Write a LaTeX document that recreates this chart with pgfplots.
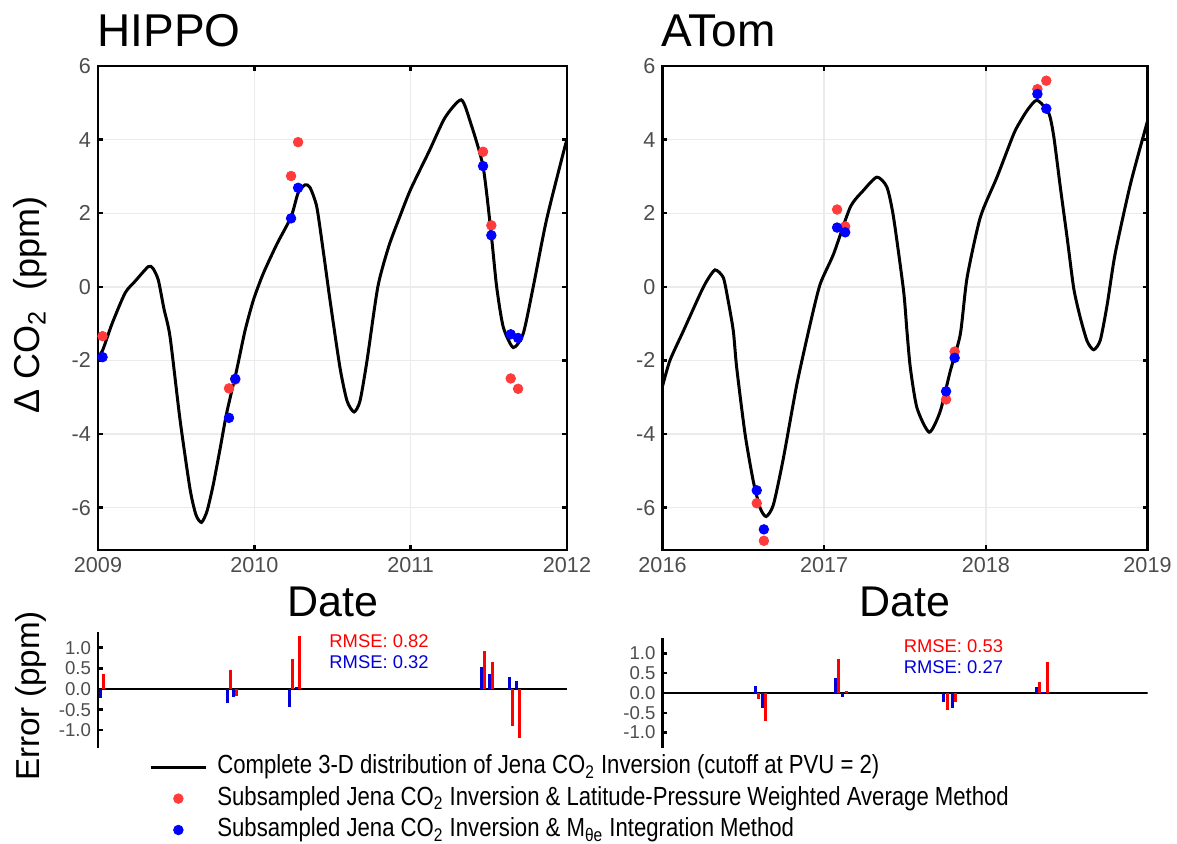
\documentclass[border=0pt]{standalone}
\usepackage{pgfplots}
\usepackage{pgfplotstable}
\pgfplotsset{compat=1.18}
\usepackage{fontspec}
\setmainfont{Liberation Sans}
\newfontfamily\narrowfont[FakeStretch=0.845]{Liberation Sans}
\definecolor{dotred}{RGB}{255,59,59}
\definecolor{dotblue}{RGB}{0,0,255}
\definecolor{barred}{RGB}{255,0,0}
\definecolor{barblue}{RGB}{0,0,215}
\definecolor{tickgray}{RGB}{77,77,77}
\definecolor{gridgray}{RGB}{235,235,235}

% ---------------- HIPPO data ----------------
\pgfplotstableread{
x y
2009.000 -1.90
2009.030 -1.72
2009.090 -1.00
2009.173 -0.17
2009.237 0.15
2009.322 0.55
2009.352 0.50
2009.386 0.18
2009.422 -0.60
2009.461 -1.36
2009.525 -3.62
2009.589 -5.50
2009.627 -6.20
2009.662 -6.40
2009.697 -6.10
2009.736 -5.40
2009.781 -4.40
2009.823 -3.43
2009.887 -2.26
2009.940 -1.20
2009.994 -0.36
2010.056 0.35
2010.143 1.15
2010.235 1.90
2010.280 2.55
2010.324 2.77
2010.356 2.70
2010.399 2.18
2010.440 1.00
2010.484 -0.36
2010.548 -2.20
2010.593 -3.10
2010.638 -3.40
2010.676 -3.10
2010.721 -2.00
2010.790 0.00
2010.860 1.10
2010.930 1.90
2011.000 2.65
2011.120 3.70
2011.220 4.60
2011.323 5.08
2011.380 4.50
2011.463 3.27
2011.516 1.40
2011.550 0.00
2011.592 -1.09
2011.656 -1.65
2011.720 -1.27
2011.784 0.00
2011.869 1.82
2011.990 3.86
2012.000 3.90
}\hippocurve
\pgfplotstableread{
x red blue
2009.029 -1.34 -1.91
2009.838 -2.76 -3.56
2009.878 -2.52 -2.50
2010.235 3.01 1.86
2010.280 3.93 2.69
2011.463 3.67 3.28
2011.516 1.67 1.40
2011.640 -2.49 -1.29
2011.687 -2.77 -1.39
}\hippodots
\pgfplotstableread{
x err
2009.017 -0.21
2009.827 -0.34
2009.868 -0.20
2010.224 -0.43
2010.269 0.05
2011.452 0.52
2011.504 0.36
2011.630 0.29
2011.674 0.19
}\hippoerrblue
\pgfplotstableread{
x err
2009.038 0.37
2009.846 0.47
2009.887 -0.17
2010.246 0.73
2010.290 1.29
2011.472 0.93
2011.525 0.65
2011.651 -0.90
2011.695 -1.20
}\hippoerrred

% ---------------- ATom data ----------------
\pgfplotstableread{
x y
2016.000 -2.70
2016.046 -2.00
2016.129 -1.20
2016.232 -0.20
2016.274 0.16
2016.325 0.46
2016.376 0.25
2016.405 -0.35
2016.438 -1.20
2016.459 -2.20
2016.511 -4.01
2016.562 -5.29
2016.604 -6.01
2016.641 -6.24
2016.686 -5.92
2016.748 -4.65
2016.831 -2.65
2016.913 -1.02
2016.975 0.07
2017.058 0.89
2017.161 2.16
2017.243 2.62
2017.326 2.98
2017.388 2.71
2017.429 1.89
2017.491 -0.10
2017.512 -1.20
2017.533 -2.20
2017.574 -3.29
2017.650 -3.95
2017.718 -3.38
2017.780 -2.29
2017.842 -1.29
2017.884 0.25
2017.966 1.89
2018.069 2.98
2018.172 4.15
2018.214 4.50
2018.260 4.82
2018.317 5.07
2018.389 4.72
2018.420 4.09
2018.461 2.70
2018.503 1.33
2018.544 -0.05
2018.585 -0.85
2018.627 -1.48
2018.667 -1.71
2018.708 -1.45
2018.750 -0.50
2018.800 0.90
2018.895 2.80
2019.000 4.50
}\atomcurve
\pgfplotstableread{
x red blue
2016.583 -5.88 -5.53
2016.627 -6.90 -6.59
2017.080 2.10 1.61
2017.130 1.64 1.48
2017.754 -3.06 -2.84
2017.807 -1.76 -1.93
2018.319 5.37 5.24
2018.374 5.60 4.84
}\atomdots
\pgfplotstableread{
x err
2016.573 0.18
2016.616 -0.39
2017.072 0.37
2017.116 -0.11
2017.741 -0.23
2017.793 -0.39
2018.311 0.16
2018.354 0.02
}\atomerrblue
\pgfplotstableread{
x err
2016.591 -0.16
2016.635 -0.70
2017.091 0.87
2017.136 0.05
2017.762 -0.44
2017.813 -0.23
2018.329 0.29
2018.379 0.78
}\atomerrred

\pgfplotsset{
  mainax/.style={
    anchor=south west, scale only axis, height=242pt,
    ymin=-7.15, ymax=6, ytick={-6,-4,...,6},
    grid=major, grid style={color=gridgray, line width=0.7pt},
    axis line style={line width=1.2pt},
    tick style={black, line width=1.2pt},
    major tick length=2.5pt, tick align=inside,
    ticklabel style={font=\fontsize{10.8}{12}\selectfont, color=tickgray},
    /pgf/number format/assume math mode=true,
    /pgf/number format/1000 sep={},
  },
  errax/.style={
    anchor=south west, scale only axis,
    axis x line=none, axis y line*=left,
    axis line style={-, line width=1.2pt},
    tick style={black, line width=1.2pt},
    major tick length=2.5pt, tick align=inside,
    ytick={-1,-0.5,0,0.5,1},
    yticklabel style={font=\fontsize{9.3}{10}\selectfont, color=tickgray,
      /pgf/number format/.cd, fixed, fixed zerofill, precision=1, assume math mode=true},
  },
  curvestyle/.style={black, line width=1.5pt, smooth, tension=0.4},
  reddot/.style={only marks, mark=*, mark size=2.4pt, color=dotred, fill=dotred},
  bluedot/.style={only marks, mark=*, mark size=2.4pt, color=dotblue, fill=dotblue},
  linelegend/.style={legend image code/.code={\draw[black, line width=1.5pt] (0pt,0pt) -- (27.5pt,0pt);}},
  redlegend/.style={legend image code/.code={\fill[dotred] (13.75pt,0pt) circle (2.4pt);}},
  bluelegend/.style={legend image code/.code={\fill[dotblue] (13.75pt,0pt) circle (2.4pt);}},
}

\begin{document}
\begin{tikzpicture}
\useasboundingbox (0,0) rectangle (588.5pt,422pt);

% ===== HIPPO main =====
\begin{axis}[mainax, at={(49pt,147pt)}, width=234.5pt,
  xmin=2009, xmax=2012, xtick={2009,2010,2011,2012},
  legend style={at={(axis description cs:0.1087,-0.418)}, anchor=north west,
    draw=none, fill=none, inner sep=0pt, column sep=4pt, row sep=1.2pt,
    font=\narrowfont\fontsize{13.1}{15}\selectfont,
    nodes={inner sep=1pt, text height=9.5pt, text depth=3pt}},
  legend cell align=left]
\addplot[curvestyle, linelegend] table[x=x, y=y] {\hippocurve};
\addlegendentry{Complete 3-D distribution of Jena CO\textsubscript{2} Inversion (cutoff at PVU = 2)}
\addplot[reddot, redlegend] table[x=x, y=red] {\hippodots};
\addlegendentry{Subsampled Jena CO\textsubscript{2} Inversion \& Latitude-Pressure Weighted Average Method}
\addplot[bluedot, bluelegend] table[x=x, y=blue] {\hippodots};
\addlegendentry{Subsampled Jena CO\textsubscript{2} Inversion \& M\textsubscript{θe} Integration Method}
\end{axis}

% ===== ATom main =====
\begin{axis}[mainax, at={(331.25pt,147pt)}, width=242.5pt,
  xmin=2016, xmax=2019, xtick={2016,2017,2018,2019}]
\addplot[curvestyle] table[x=x, y=y] {\atomcurve};
\addplot[reddot] table[x=x, y=red] {\atomdots};
\addplot[bluedot] table[x=x, y=blue] {\atomdots};
\end{axis}

% ===== HIPPO error =====
\begin{axis}[errax, at={(49pt,48pt)}, width=234.5pt, height=58pt,
  xmin=2009, xmax=2012, ymin=-1.43, ymax=1.38]
\addplot[black, line width=1pt] coordinates {(2009,0) (2012,0)};
\addplot[ycomb, barblue, line width=1.5pt] table[x=x, y=err] {\hippoerrblue};
\addplot[ycomb, barred, line width=1.5pt] table[x=x, y=err] {\hippoerrred};
\end{axis}

% ===== ATom error =====
\begin{axis}[errax, at={(331.25pt,48pt)}, width=242.5pt, height=55pt,
  xmin=2016, xmax=2019, ymin=-1.39, ymax=1.39]
\addplot[black, line width=1pt] coordinates {(2016,0) (2019,0)};
\addplot[ycomb, barblue, line width=1.5pt] table[x=x, y=err] {\atomerrblue};
\addplot[ycomb, barred, line width=1.5pt] table[x=x, y=err] {\atomerrred};
\end{axis}

% ===== texts =====
\node[anchor=base west, inner sep=0pt, font=\fontsize{23}{27}\selectfont] at (48.5pt,398.5pt) {HIPPO};
\node[anchor=base west, inner sep=0pt, font=\fontsize{23}{27}\selectfont] at (330.5pt,398.5pt) {ATom};
\node[anchor=base, inner sep=0pt, font=\fontsize{21.5}{24}\selectfont] at (166.5pt,113.5pt) {Date};
\node[anchor=base, inner sep=0pt, font=\fontsize{21.5}{24}\selectfont] at (452.5pt,113.5pt) {Date};
\node[anchor=base, rotate=90, inner sep=0pt, font=\fontsize{18}{21}\selectfont] at (20pt,269.5pt) {Δ CO\textsubscript{2}\ \ (ppm)};
\node[anchor=base, rotate=90, inner sep=0pt, font=\fontsize{16.6}{19}\selectfont] at (20pt,74pt) {Error (ppm)};
\node[anchor=base west, inner sep=0pt, text=barred, font=\fontsize{9.2}{11}\selectfont] at (164.5pt,98.35pt) {RMSE: 0.82};
\node[anchor=base west, inner sep=0pt, text=barblue, font=\fontsize{9.2}{11}\selectfont] at (164.5pt,87.85pt) {RMSE: 0.32};
\node[anchor=base west, inner sep=0pt, text=barred, font=\fontsize{9.2}{11}\selectfont] at (451.7pt,95.65pt) {RMSE: 0.53};
\node[anchor=base west, inner sep=0pt, text=barblue, font=\fontsize{9.2}{11}\selectfont] at (451.7pt,85.35pt) {RMSE: 0.27};
\end{tikzpicture}
\end{document}
